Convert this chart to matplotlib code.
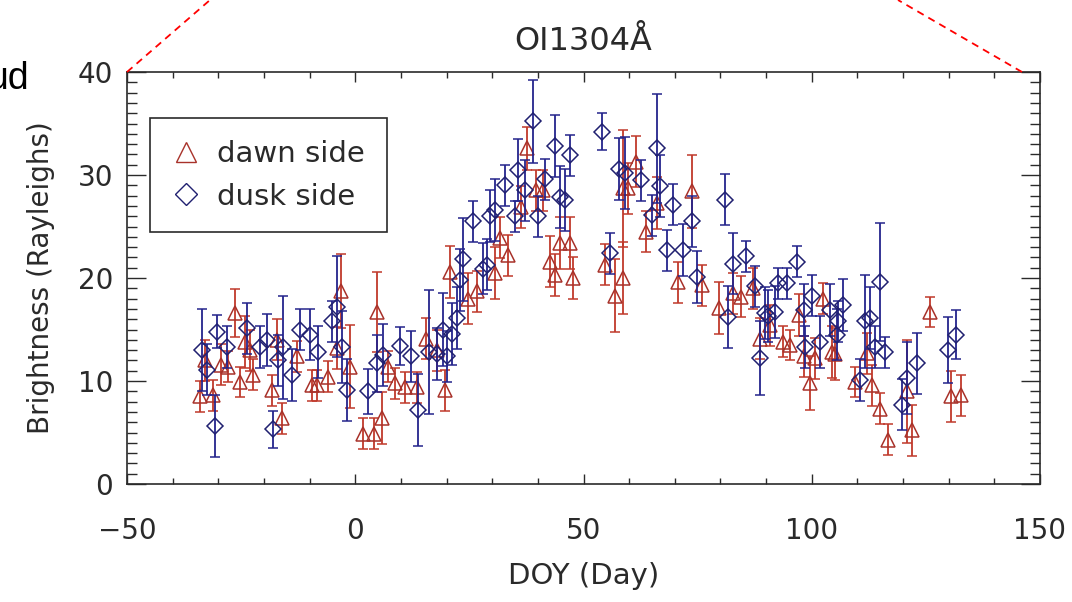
import matplotlib
matplotlib.use('Agg')
import matplotlib.pyplot as plt
from matplotlib.lines import Line2D
from matplotlib.ticker import MultipleLocator


## 数据 (DOY, brightness, error)
dawn_doy = [-34.0, -33.0, -31.1, -29.3, -27.8, -26.3, -25.2, -24.2, -23.1, -22.3,
            -18.3, -17.2, -16.1, -12.8, -9.5, -8.4, -5.9, -4.1, -3.2, -1.2,
            1.8, 4.0, 4.7, 5.8, 7.2, 8.7, 10.9, 13.5, 15.6, 17.8,
            19.7, 20.8, 24.8, 26.6, 30.6, 31.7, 33.5, 36.4, 37.6, 39.7,
            41.2, 42.7, 43.8, 44.9, 47.0, 47.8, 54.7, 56.9, 58.6, 58.7,
            59.8, 61.6, 63.8, 66.0, 70.8, 73.7, 75.9, 79.6, 82.8, 84.6,
            87.2, 88.7, 90.9, 93.8, 95.2, 97.1, 98.2, 99.6, 100.7, 102.5,
            104.4, 105.1, 109.5, 112.1, 113.2, 115.0, 116.8, 120.8, 121.9, 125.9,
            130.6, 132.8]
dawn_val = [8.5, 12.0, 8.6, 11.6, 11.4, 16.6, 9.9, 13.8, 13.0, 10.6,
            9.1, 14.0, 6.4, 12.4, 9.6, 9.6, 10.4, 13.2, 18.7, 11.4,
            4.9, 4.9, 16.7, 6.4, 11.4, 9.8, 9.4, 9.4, 14.1, 13.0,
            9.1, 20.6, 18.0, 18.7, 20.5, 23.9, 22.2, 26.9, 32.6, 28.5,
            28.5, 21.6, 20.3, 23.4, 23.4, 20.0, 21.3, 18.3, 20.0, 28.7,
            28.7, 31.3, 24.5, 27.3, 19.6, 28.4, 19.3, 17.1, 18.5, 18.2,
            19.0, 14.1, 15.4, 13.8, 13.5, 16.4, 12.4, 9.8, 12.2, 18.0,
            12.8, 12.6, 9.9, 12.7, 9.6, 7.3, 4.3, 9.0, 5.2, 16.7,
            8.5, 8.6]
dawn_err = [1.5, 2.0, 1.5, 2.0, 1.5, 2.3, 1.5, 2.5, 2.0, 1.5,
            1.5, 2.0, 1.5, 1.5, 1.5, 1.5, 1.5, 2.0, 3.6, 4.0,
            1.5, 1.5, 3.9, 2.5, 1.5, 1.5, 1.5, 1.5, 2.0, 2.0,
            2.0, 2.5, 2.5, 2.0, 2.5, 2.0, 2.0, 2.0, 2.1, 2.0,
            2.0, 2.5, 2.0, 2.5, 2.5, 2.0, 2.0, 3.5, 3.5, 5.7,
            2.5, 2.5, 2.0, 2.5, 2.0, 3.5, 2.0, 2.5, 2.0, 2.0,
            2.0, 2.0, 2.0, 1.5, 1.5, 2.0, 2.0, 2.6, 2.0, 1.5,
            2.5, 2.5, 1.5, 2.0, 2.0, 1.5, 1.5, 5.0, 2.5, 1.5,
            2.5, 2.0]

dusk_doy = [-33.6, -32.5, -30.7, -30.2, -28.2, -23.8, -20.9, -19.4, -18.1, -16.9,
            -15.8, -13.9, -12.1, -9.9, -8.1, -5.2, -4.1, -3.0, -1.9, 2.9,
            4.7, 6.0, 9.8, 12.3, 13.8, 16.2, 17.8, 19.3, 20.0, 21.1,
            22.2, 22.9, 23.6, 25.9, 27.9, 28.8, 29.5, 30.6, 32.8, 35.0,
            35.7, 37.2, 39.0, 40.1, 41.6, 43.8, 44.9, 46.0, 47.0, 54.0,
            55.8, 57.7, 59.1, 62.7, 64.9, 66.0, 66.8, 68.2, 69.7, 71.9,
            73.7, 74.8, 81.0, 81.7, 82.8, 85.7, 87.6, 88.7, 89.8, 90.5,
            92.0, 92.7, 94.5, 96.7, 98.2, 98.6, 100.0, 101.8, 104.0, 105.5,
            105.8, 106.9, 110.6, 111.7, 112.8, 113.9, 115.0, 116.0, 119.7, 120.8,
            123.0, 129.9, 131.7]
dusk_val = [13.0, 11.1, 5.6, 14.8, 13.3, 15.1, 13.3, 14.0, 5.3, 12.0,
            13.3, 10.6, 15.0, 14.5, 12.8, 15.8, 17.2, 13.3, 9.1, 9.0,
            11.7, 12.5, 13.4, 12.4, 7.2, 12.8, 12.6, 15.0, 12.4, 14.6,
            16.1, 19.8, 21.8, 25.5, 20.9, 21.3, 26.0, 26.6, 29.0, 26.0,
            30.5, 28.5, 35.2, 26.0, 29.6, 32.8, 27.9, 27.6, 31.9, 34.2,
            22.4, 30.6, 30.2, 29.5, 26.1, 32.6, 28.9, 22.7, 27.1, 22.7,
            25.5, 20.1, 27.6, 16.2, 21.4, 22.1, 19.2, 12.2, 16.6, 16.3,
            16.7, 19.5, 19.5, 21.6, 16.9, 13.3, 18.3, 13.8, 16.9, 14.5,
            15.8, 17.4, 10.1, 15.8, 16.1, 13.3, 19.6, 12.8, 7.7, 10.3,
            11.7, 13.0, 14.5]
dusk_err = [4.0, 2.5, 3.0, 1.6, 2.0, 2.5, 2.0, 2.5, 1.8, 2.5,
            5.0, 2.5, 2.0, 2.5, 2.5, 2.0, 4.9, 3.5, 3.0, 2.2,
            2.8, 3.0, 1.8, 2.5, 3.5, 6.0, 2.5, 3.5, 2.5, 3.0,
            3.0, 3.0, 4.0, 2.0, 2.5, 2.5, 2.5, 3.0, 2.0, 1.5,
            3.0, 3.0, 4.0, 2.0, 2.0, 3.0, 3.0, 3.0, 2.0, 1.8,
            2.0, 3.0, 3.5, 2.0, 2.0, 5.3, 3.0, 2.0, 2.0, 2.5,
            2.5, 2.5, 2.5, 3.0, 3.0, 1.5, 2.0, 3.6, 2.5, 2.5,
            2.5, 1.5, 1.5, 1.5, 2.5, 2.0, 2.0, 2.5, 2.5, 2.5,
            2.0, 2.5, 2.0, 4.5, 3.0, 2.0, 5.7, 1.5, 2.5, 3.5,
            3.0, 3.2, 2.4]

red = '#c0392b'
red_edge = '#a8322a'
blue = '#24248c'
blue_edge = '#202070'
txt = '#2a2a2a'

plt.rcParams['font.family'] = ['DejaVu Sans']

fig = plt.figure(figsize=(10.72, 6.02), dpi=100)
ax = fig.add_axes([127 / 1072, 1 - 484 / 602, 913 / 1072, 412 / 602])

ax.errorbar(dawn_doy, dawn_val, yerr=dawn_err, fmt='^', ms=10, mfc='none',
            mec=red_edge, mew=1.1, ecolor=red, elinewidth=1.3, capsize=3.6,
            capthick=1.3, zorder=2)
ax.errorbar(dusk_doy, dusk_val, yerr=dusk_err, fmt='D', ms=8, mfc='none',
            mec=blue_edge, mew=1.1, ecolor=blue, elinewidth=1.3, capsize=3.6,
            capthick=1.3, zorder=3)

ax.set_xlim(-50, 150)
ax.set_ylim(0, 40)
ax.xaxis.set_major_locator(MultipleLocator(50))
ax.xaxis.set_minor_locator(MultipleLocator(10))
ax.yaxis.set_major_locator(MultipleLocator(10))
ax.yaxis.set_minor_locator(MultipleLocator(1))
ax.tick_params(which='both', direction='in', top=True, right=True, colors=txt,
               width=1.0)
ax.tick_params(axis='x', which='major', length=7, pad=24, labelsize=20)
ax.tick_params(axis='x', which='minor', length=4)
ax.tick_params(axis='y', which='major', length=14, pad=10, labelsize=20)
ax.tick_params(axis='y', which='minor', length=7)
for sp in ax.spines.values():
    sp.set_color(txt)
    sp.set_linewidth(1.2)

ax.set_title('OI1304Å', fontsize=23, color=txt, pad=16)
ax.set_xlabel('DOY (Day)', fontsize=21, color=txt, labelpad=12)
ax.set_ylabel('Brightness (Rayleighs)', fontsize=20, color=txt, labelpad=16)

handles = [Line2D([], [], ls='none', marker='^', ms=15, mfc='none', mec=red_edge,
                  mew=1.0, label='dawn side'),
           Line2D([], [], ls='none', marker='D', ms=11, mfc='none', mec=blue_edge,
                  mew=1.0, label='dusk side')]
leg = ax.legend(handles=handles, loc='upper left', bbox_to_anchor=(0.025, 0.888),
                borderaxespad=0, fancybox=False, framealpha=1, edgecolor=txt,
                fontsize=21, handlelength=1.0, handletextpad=0.55,
                borderpad=0.75, labelspacing=0.5)
leg.get_frame().set_linewidth(1.2)
for t in leg.get_texts():
    t.set_color(txt)

# 放大框连线
fig.add_artist(Line2D([127 / 1072, 210 / 1072], [1 - 72 / 602, 1.0],
                      color='red', ls=(0, (4, 3)), lw=1.3))
fig.add_artist(Line2D([1022 / 1072, 898 / 1072], [1 - 72 / 602, 1.0],
                      color='red', ls=(0, (4, 3)), lw=1.3))
fig.text(29 / 1072, 1 - 89 / 602, 'ud', fontsize=27, color='black',
         ha='right', va='baseline', family=['Liberation Sans', 'DejaVu Sans'])

fig.savefig('out.png', dpi=100)
